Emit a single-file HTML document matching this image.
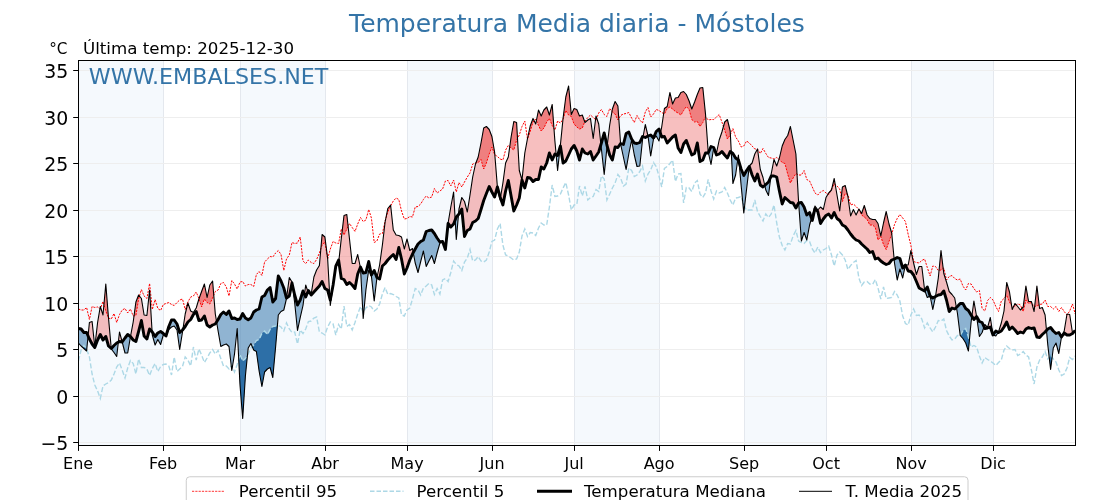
<!DOCTYPE html><html><head><meta charset="utf-8"><title>Temperatura Media diaria - Móstoles</title>
<style>html,body{margin:0;padding:0;background:#fff;overflow:hidden}svg{display:block}</style></head><body>
<svg width="1120" height="500" viewBox="0 0 1120 500" font-family='"DejaVu Sans", "Liberation Sans", sans-serif'>
<rect width="1120" height="500" fill="#fff"/>
<rect x="78" y="60.5" width="85" height="385.0" fill="#f5f9fd"/>
<rect x="240" y="60.5" width="85" height="385.0" fill="#f5f9fd"/>
<rect x="407" y="60.5" width="85" height="385.0" fill="#f5f9fd"/>
<rect x="574" y="60.5" width="85" height="385.0" fill="#f5f9fd"/>
<rect x="744" y="60.5" width="82" height="385.0" fill="#f5f9fd"/>
<rect x="911" y="60.5" width="82" height="385.0" fill="#f5f9fd"/>
<line x1="78.5" x2="78.5" y1="60.5" y2="445.5" stroke="#e4e8ee" stroke-width="1"/>
<line x1="163.5" x2="163.5" y1="60.5" y2="445.5" stroke="#e4e8ee" stroke-width="1"/>
<line x1="240.5" x2="240.5" y1="60.5" y2="445.5" stroke="#e4e8ee" stroke-width="1"/>
<line x1="325.5" x2="325.5" y1="60.5" y2="445.5" stroke="#e4e8ee" stroke-width="1"/>
<line x1="407.5" x2="407.5" y1="60.5" y2="445.5" stroke="#e4e8ee" stroke-width="1"/>
<line x1="492.5" x2="492.5" y1="60.5" y2="445.5" stroke="#e4e8ee" stroke-width="1"/>
<line x1="574.5" x2="574.5" y1="60.5" y2="445.5" stroke="#e4e8ee" stroke-width="1"/>
<line x1="659.5" x2="659.5" y1="60.5" y2="445.5" stroke="#e4e8ee" stroke-width="1"/>
<line x1="744.5" x2="744.5" y1="60.5" y2="445.5" stroke="#e4e8ee" stroke-width="1"/>
<line x1="826.5" x2="826.5" y1="60.5" y2="445.5" stroke="#e4e8ee" stroke-width="1"/>
<line x1="911.5" x2="911.5" y1="60.5" y2="445.5" stroke="#e4e8ee" stroke-width="1"/>
<line x1="993.5" x2="993.5" y1="60.5" y2="445.5" stroke="#e4e8ee" stroke-width="1"/>
<line x1="78.5" x2="1075.5" y1="442.5" y2="442.5" stroke="#eeeeee" stroke-width="1"/>
<line x1="78.5" x2="1075.5" y1="396.5" y2="396.5" stroke="#eeeeee" stroke-width="1"/>
<line x1="78.5" x2="1075.5" y1="349.5" y2="349.5" stroke="#eeeeee" stroke-width="1"/>
<line x1="78.5" x2="1075.5" y1="303.5" y2="303.5" stroke="#eeeeee" stroke-width="1"/>
<line x1="78.5" x2="1075.5" y1="256.5" y2="256.5" stroke="#eeeeee" stroke-width="1"/>
<line x1="78.5" x2="1075.5" y1="210.5" y2="210.5" stroke="#eeeeee" stroke-width="1"/>
<line x1="78.5" x2="1075.5" y1="163.5" y2="163.5" stroke="#eeeeee" stroke-width="1"/>
<line x1="78.5" x2="1075.5" y1="117.5" y2="117.5" stroke="#eeeeee" stroke-width="1"/>
<line x1="78.5" x2="1075.5" y1="70.5" y2="70.5" stroke="#eeeeee" stroke-width="1"/>
<defs>
<clipPath id="ax"><rect x="78.5" y="60.5" width="997.0" height="385.0"/></clipPath>
</defs>
<g clip-path="url(#ax)">
<path d="M88.1,335.9 L89.4,322.5 L92.1,321.5 L94.8,347.0 L97.6,322.5 L100.3,306.5 L103.0,315.0 L105.8,284.0 L108.5,318.0 L111.2,348.5 L111.2,348.5 L108.5,346.0 L105.8,336.5 L103.0,340.0 L100.3,334.5 L97.6,340.0 L94.8,347.5 L92.1,344.0 L89.4,339.0 L88.1,335.9Z M118.3,342.1 L119.5,332.0 L122.2,342.0 L122.2,342.0 L119.5,341.5 L118.3,342.1Z M130.5,336.6 L133.2,322.0 L135.9,302.0 L138.6,295.0 L141.4,298.5 L144.1,315.0 L146.9,315.5 L149.6,290.0 L152.1,331.8 L152.1,331.8 L149.6,329.0 L146.9,339.0 L144.1,336.0 L141.4,320.5 L138.6,331.5 L135.9,341.5 L133.2,340.0 L130.5,336.6Z M182.8,329.5 L185.2,314.0 L187.9,303.0 L190.7,311.0 L193.4,312.5 L196.2,308.0 L198.9,299.0 L201.6,291.5 L204.4,284.0 L207.1,297.5 L209.8,285.0 L212.6,281.0 L215.3,314.0 L216.6,321.9 L216.6,321.9 L215.3,324.0 L212.6,325.0 L209.8,327.0 L207.1,325.0 L204.4,316.0 L201.6,320.0 L198.9,320.5 L196.2,311.5 L193.4,314.5 L190.7,319.5 L187.9,322.0 L185.2,326.5 L182.8,329.5Z M286.6,297.9 L289.3,277.5 L292.0,282.0 L292.3,284.3 L292.3,284.3 L292.0,283.0 L289.3,296.0 L286.6,297.9Z M304.5,294.3 L305.7,285.0 L308.0,291.6 L308.0,291.6 L305.7,297.0 L304.5,294.3Z M310.4,293.7 L311.2,294.0 L313.9,277.0 L316.6,270.0 L319.4,265.5 L322.1,234.5 L324.9,237.0 L327.6,258.0 L329.9,298.5 L329.9,298.5 L327.6,290.0 L324.9,288.5 L322.1,281.5 L319.4,286.0 L316.6,289.0 L313.9,292.0 L311.2,295.0 L310.4,293.7Z M338.7,261.3 L341.3,238.5 L344.0,215.5 L346.8,214.5 L349.5,239.0 L352.2,263.5 L355.0,263.5 L357.7,254.5 L360.3,267.3 L360.3,267.3 L357.7,274.0 L355.0,288.5 L352.2,285.0 L349.5,282.5 L346.8,284.5 L344.0,279.5 L341.3,278.5 L338.7,261.3Z M377.0,277.6 L379.6,265.0 L382.4,245.0 L385.1,222.0 L387.8,208.5 L390.6,205.0 L393.3,230.0 L396.1,235.0 L398.8,235.5 L401.5,237.0 L404.3,249.0 L407.0,239.0 L409.8,250.5 L412.5,248.5 L413.3,252.6 L413.3,252.6 L412.5,254.0 L409.8,260.0 L407.0,268.0 L404.3,274.0 L401.5,259.0 L398.8,247.5 L396.1,259.5 L393.3,254.5 L390.6,257.0 L387.8,260.0 L385.1,263.5 L382.4,266.0 L379.6,279.0 L377.0,277.6Z M445.4,249.5 L448.1,223.0 L450.8,207.0 L453.6,192.0 L455.2,219.9 L455.2,219.9 L453.6,224.0 L450.8,227.0 L448.1,223.5 L445.4,249.5Z M458.5,214.5 L459.0,209.0 L461.8,197.5 L464.5,201.5 L467.3,212.0 L470.0,195.0 L472.7,177.0 L475.5,164.0 L478.2,157.0 L481.0,143.0 L483.7,128.0 L486.4,126.5 L489.2,129.5 L491.9,136.5 L494.6,152.0 L497.4,187.0 L497.4,187.0 L494.6,197.0 L491.9,192.0 L489.2,186.5 L486.4,193.5 L483.7,200.5 L481.0,209.5 L478.2,218.5 L475.5,221.0 L472.7,222.5 L470.0,229.0 L467.3,230.5 L464.5,236.5 L461.8,209.0 L459.0,214.0 L458.5,214.5Z M500.5,198.0 L502.9,183.0 L505.6,163.0 L508.3,157.0 L511.1,137.0 L513.8,121.5 L516.6,122.5 L519.3,170.5 L522.0,180.0 L522.0,180.0 L519.3,198.0 L516.6,205.0 L513.8,211.0 L511.1,196.0 L508.3,180.5 L505.6,191.0 L502.9,205.0 L500.5,198.0Z M522.0,180.0 L524.8,153.0 L527.5,138.5 L530.2,126.0 L533.0,118.5 L535.7,124.0 L538.5,110.0 L541.2,116.0 L543.9,110.0 L546.7,107.0 L549.4,115.0 L552.2,104.5 L554.9,141.0 L556.2,154.7 L556.2,154.7 L554.9,154.0 L552.2,160.0 L549.4,153.0 L546.7,163.0 L543.9,169.0 L541.2,167.0 L538.5,179.5 L535.7,179.5 L533.0,181.5 L530.2,178.0 L527.5,177.5 L524.8,188.0 L522.0,180.0Z M560.2,146.6 L560.4,145.0 L563.1,118.0 L565.8,97.0 L568.6,86.0 L571.3,114.5 L574.1,108.5 L576.8,109.5 L579.5,116.0 L582.3,115.0 L585.0,122.5 L587.8,120.0 L590.5,118.5 L593.2,138.5 L596.0,116.0 L598.7,124.0 L601.0,144.6 L601.0,144.6 L598.7,152.0 L596.0,156.0 L593.2,160.0 L590.5,151.5 L587.8,154.0 L585.0,153.0 L582.3,149.0 L579.5,160.0 L576.8,151.0 L574.1,145.5 L571.3,149.0 L568.6,155.0 L565.8,161.0 L563.1,163.0 L560.4,146.0 L560.2,146.6Z M607.2,145.9 L609.7,125.0 L612.4,109.0 L615.1,101.5 L617.9,106.0 L620.6,143.5 L620.6,143.5 L617.9,147.5 L615.1,147.0 L612.4,160.0 L609.7,155.0 L607.2,145.9Z M643.1,136.7 L645.3,124.5 L648.0,136.0 L648.0,136.0 L645.3,137.5 L643.1,136.7Z M660.4,133.4 L661.7,127.0 L664.4,108.5 L667.2,106.5 L669.9,92.5 L672.6,104.0 L675.4,98.0 L678.1,97.5 L680.9,92.5 L683.6,91.5 L686.3,94.5 L689.1,101.0 L691.8,109.0 L694.6,102.0 L697.3,94.5 L700.0,88.0 L702.8,87.5 L705.5,114.0 L708.2,152.0 L708.4,152.7 L708.4,152.7 L708.2,153.0 L705.5,153.0 L702.8,160.0 L700.0,161.5 L697.3,143.0 L694.6,153.5 L691.8,155.0 L689.1,148.0 L686.3,140.5 L683.6,144.0 L680.9,152.5 L678.1,148.0 L675.4,135.0 L672.6,137.0 L669.9,140.0 L667.2,143.0 L664.4,136.5 L661.7,137.0 L660.4,133.4Z M714.3,149.0 L716.5,153.0 L719.2,140.0 L721.9,132.0 L724.7,122.0 L727.4,119.5 L730.2,131.0 L731.3,152.3 L731.3,152.3 L730.2,151.5 L727.4,158.0 L724.7,155.0 L721.9,151.5 L719.2,154.0 L716.5,155.0 L714.3,149.0Z M737.7,159.5 L738.4,155.0 L739.0,162.1 L739.0,162.1 L738.4,160.0 L737.7,159.5Z M749.3,166.6 L749.3,166.0 L752.1,163.0 L754.8,154.0 L757.5,149.0 L760.3,169.5 L763.0,177.5 L764.7,185.4 L764.7,185.4 L763.0,187.0 L760.3,185.0 L757.5,174.0 L754.8,181.0 L752.1,175.0 L749.3,166.5 L749.3,166.6Z M770.9,176.8 L771.2,174.0 L774.0,159.5 L776.7,166.0 L779.4,158.0 L782.2,146.0 L784.9,139.5 L787.7,135.5 L790.4,126.5 L793.1,140.0 L795.9,154.0 L798.6,202.5 L798.7,203.0 L798.7,203.0 L798.6,203.0 L795.9,208.0 L793.1,203.0 L790.4,202.5 L787.7,200.0 L784.9,197.5 L782.2,204.0 L779.4,191.0 L776.7,177.0 L774.0,176.0 L771.2,176.0 L770.9,176.8Z M811.5,218.2 L812.3,215.5 L815.0,206.0 L817.8,210.0 L820.5,207.0 L823.3,209.5 L826.0,197.5 L828.7,193.0 L831.5,190.0 L834.2,178.5 L837.0,195.0 L839.7,211.0 L842.4,187.0 L845.2,185.5 L847.9,196.5 L850.6,216.0 L853.4,209.5 L856.1,215.0 L858.9,209.0 L861.6,213.5 L864.3,205.5 L867.1,215.0 L869.8,218.5 L872.6,219.5 L875.3,219.5 L878.0,223.5 L880.8,236.0 L883.5,223.0 L886.2,211.5 L889.0,224.0 L891.7,233.0 L894.1,259.1 L894.1,259.1 L891.7,260.0 L889.0,263.5 L886.2,264.5 L883.5,263.0 L880.8,261.0 L878.0,258.0 L875.3,259.0 L872.6,251.5 L869.8,252.5 L867.1,249.0 L864.3,246.5 L861.6,244.0 L858.9,241.0 L856.1,240.0 L853.4,237.5 L850.6,234.0 L847.9,230.0 L845.2,226.5 L842.4,225.0 L839.7,220.5 L837.0,218.5 L834.2,212.5 L831.5,218.0 L828.7,214.0 L826.0,215.5 L823.3,219.0 L820.5,223.5 L817.8,211.5 L815.0,208.5 L812.3,220.5 L811.5,218.2Z M905.4,265.0 L908.2,265.0 L910.9,250.5 L913.6,263.0 L916.4,274.5 L919.1,266.5 L921.8,266.5 L924.6,290.0 L924.8,290.7 L924.8,290.7 L924.6,291.0 L921.8,289.5 L919.1,288.0 L916.4,281.5 L913.6,275.0 L910.9,271.5 L908.2,271.0 L905.4,265.0Z M935.5,296.5 L938.3,278.0 L941.0,250.5 L943.8,273.5 L946.5,282.0 L949.2,291.5 L952.0,294.5 L954.7,298.0 L956.4,307.4 L956.4,307.4 L954.7,309.0 L952.0,308.0 L949.2,311.5 L946.5,300.0 L943.8,291.0 L941.0,294.5 L938.3,295.0 L935.5,296.5Z M971.9,316.2 L973.9,301.0 L976.6,316.5 L976.6,316.5 L973.9,319.5 L971.9,316.2Z M984.0,326.8 L984.8,324.5 L987.6,327.5 L990.3,317.5 L993.0,335.0 L993.0,335.0 L990.3,327.0 L987.6,328.0 L984.8,328.5 L984.0,326.8Z M998.3,332.4 L998.5,332.0 L1001.3,323.0 L1004.0,311.0 L1006.7,282.5 L1009.5,292.0 L1012.2,309.5 L1015.0,303.5 L1017.7,306.5 L1020.4,310.0 L1023.2,307.0 L1025.9,286.0 L1028.6,301.5 L1031.4,301.5 L1034.1,311.5 L1036.9,286.0 L1039.6,308.5 L1042.3,307.5 L1045.1,315.0 L1046.5,330.5 L1046.5,330.5 L1045.1,332.0 L1042.3,334.5 L1039.6,337.5 L1036.9,337.0 L1034.1,328.0 L1031.4,328.5 L1028.6,327.5 L1025.9,329.0 L1023.2,333.0 L1020.4,332.0 L1017.7,333.5 L1015.0,330.0 L1012.2,327.0 L1009.5,329.5 L1006.7,322.0 L1004.0,327.0 L1001.3,331.0 L998.5,332.5 L998.3,332.4Z M1061.5,337.0 L1064.2,331.0 L1067.0,314.0 L1069.7,314.5 L1072.5,333.0 L1072.5,333.5 L1069.7,335.0 L1067.0,335.0 L1064.2,333.0 L1061.5,337.0Z" fill="#f08080" fill-opacity="0.5"/>
<path d="M78.4,343.0 L81.1,346.0 L83.9,348.5 L86.6,351.0 L88.1,335.9 L88.1,335.9 L86.6,332.5 L83.9,332.5 L81.1,329.0 L78.4,328.5Z M111.2,348.5 L111.3,349.0 L114.0,352.5 L116.7,356.5 L118.3,342.1 L118.3,342.1 L116.7,343.0 L114.0,345.5 L111.3,348.5 L111.2,348.5Z M122.2,342.0 L125.0,353.0 L127.7,353.0 L130.4,337.0 L130.5,336.6 L130.5,336.6 L130.4,336.5 L127.7,334.5 L125.0,338.0 L122.2,342.0Z M152.1,331.8 L152.3,335.0 L155.1,345.0 L157.8,339.5 L160.6,344.5 L163.3,335.0 L166.0,336.0 L166.0,336.0 L163.3,333.5 L160.6,331.5 L157.8,333.0 L155.1,336.5 L152.3,332.0 L152.1,331.8Z M166.0,336.0 L168.8,329.5 L171.5,327.0 L174.2,326.0 L177.0,330.0 L179.7,349.5 L182.5,332.0 L182.8,329.5 L182.8,329.5 L182.5,330.0 L179.7,332.5 L177.0,324.0 L174.2,320.0 L171.5,320.0 L168.8,326.5 L166.0,336.0Z M216.6,321.9 L218.1,331.0 L220.8,346.5 L223.5,345.0 L226.3,344.0 L229.0,346.5 L231.8,370.5 L234.5,354.0 L237.2,328.5 L240.0,385.0 L242.7,418.5 L245.4,376.0 L248.2,348.0 L250.9,343.5 L253.7,350.0 L256.4,351.5 L259.1,371.0 L261.9,386.5 L264.6,372.0 L267.4,369.0 L270.1,367.5 L272.8,377.5 L275.6,347.0 L278.3,315.0 L281.0,311.5 L283.8,310.0 L286.5,298.5 L286.6,297.9 L286.6,297.9 L286.5,298.0 L283.8,288.0 L281.0,281.0 L278.3,276.0 L275.6,298.5 L272.8,302.0 L270.1,287.5 L267.4,290.0 L264.6,295.5 L261.9,297.0 L259.1,309.0 L256.4,310.0 L253.7,312.0 L250.9,318.0 L248.2,319.7 L245.4,318.0 L242.7,313.5 L240.0,319.0 L237.2,319.5 L234.5,318.0 L231.8,318.5 L229.0,311.0 L226.3,314.5 L223.5,312.0 L220.8,314.5 L218.1,319.5 L216.6,321.9Z M292.3,284.3 L294.7,303.0 L297.5,330.5 L300.2,317.7 L303.0,305.5 L304.5,294.3 L304.5,294.3 L303.0,291.0 L300.2,300.0 L297.5,305.0 L294.7,295.0 L292.3,284.3Z M308.0,291.6 L308.4,293.0 L310.4,293.7 L310.4,293.7 L308.4,290.5 L308.0,291.6Z M329.9,298.5 L330.3,305.5 L333.1,285.0 L333.1,285.0 L330.3,300.0 L329.9,298.5Z M333.1,285.0 L335.8,267.5 L338.6,263.0 L338.7,261.3 L338.7,261.3 L338.6,260.0 L335.8,266.0 L333.1,285.0Z M360.3,267.3 L360.5,268.0 L363.2,318.5 L365.9,290.0 L368.7,270.0 L371.4,276.0 L374.2,301.0 L376.9,278.0 L377.0,277.6 L377.0,277.6 L376.9,277.5 L374.2,270.5 L371.4,275.0 L368.7,261.5 L365.9,272.5 L363.2,273.0 L360.5,267.0 L360.3,267.3Z M413.3,252.6 L415.2,263.0 L418.0,272.5 L420.7,261.5 L423.4,251.0 L426.2,266.5 L428.9,261.0 L431.7,255.5 L434.4,263.5 L437.1,253.0 L439.9,243.0 L442.6,241.5 L442.6,241.5 L439.9,242.0 L437.1,238.0 L434.4,233.5 L431.7,230.0 L428.9,230.5 L426.2,231.5 L423.4,240.0 L420.7,241.5 L418.0,244.0 L415.2,249.0 L413.3,252.6Z M455.2,219.9 L456.3,239.5 L458.5,214.5 L458.5,214.5 L456.3,217.0 L455.2,219.9Z M497.4,187.0 L500.1,200.0 L500.5,198.0 L500.5,198.0 L500.1,197.0 L497.4,187.0Z M556.2,154.7 L557.6,170.5 L560.2,146.6 L560.2,146.6 L557.6,155.5 L556.2,154.7Z M601.0,144.6 L601.4,149.0 L604.2,174.5 L606.9,148.0 L607.2,145.9 L607.2,145.9 L606.9,145.0 L604.2,133.0 L601.4,143.0 L601.0,144.6Z M620.6,143.5 L620.6,144.0 L623.4,157.0 L626.1,169.5 L628.8,154.0 L631.6,140.0 L634.3,155.0 L637.0,166.5 L639.8,166.0 L642.5,140.0 L643.1,136.7 L643.1,136.7 L642.5,136.5 L639.8,142.5 L637.0,143.5 L634.3,143.0 L631.6,139.0 L628.8,132.0 L626.1,133.5 L623.4,144.5 L620.6,143.5 L620.6,143.5Z M648.0,136.0 L650.7,156.0 L653.5,139.0 L656.2,136.0 L659.0,141.0 L660.4,133.4 L660.4,133.4 L659.0,129.0 L656.2,131.5 L653.5,138.0 L650.7,135.0 L648.0,136.0Z M708.4,152.7 L711.0,164.5 L713.7,148.0 L714.3,149.0 L714.3,149.0 L713.7,147.5 L711.0,146.5 L708.4,152.7Z M731.3,152.3 L732.9,183.5 L735.6,175.0 L737.7,159.5 L737.7,159.5 L735.6,158.0 L732.9,153.5 L731.3,152.3Z M739.0,162.1 L741.1,185.0 L743.8,213.0 L746.6,189.0 L749.3,166.6 L749.3,166.6 L746.6,170.5 L743.8,175.5 L741.1,169.0 L739.0,162.1Z M764.7,185.4 L765.8,190.0 L768.5,195.5 L770.9,176.8 L770.9,176.8 L768.5,182.0 L765.8,184.5 L764.7,185.4Z M798.7,203.0 L801.4,241.0 L804.1,232.5 L806.8,240.0 L809.6,225.0 L811.5,218.2 L811.5,218.2 L809.6,212.5 L806.8,215.0 L804.1,207.0 L801.4,202.5 L798.7,203.0Z M894.1,259.1 L894.5,263.0 L897.2,280.0 L899.9,269.0 L902.7,278.0 L905.4,265.0 L905.4,265.0 L902.7,268.0 L899.9,258.5 L897.2,257.5 L894.5,259.0 L894.1,259.1Z M924.8,290.7 L927.3,297.5 L930.1,296.0 L930.1,296.0 L927.3,287.0 L924.8,290.7Z M930.1,296.0 L932.8,309.5 L935.5,296.5 L935.5,296.5 L932.8,298.0 L930.1,296.0Z M956.4,307.4 L957.4,313.0 L960.2,335.5 L962.9,338.5 L965.7,343.0 L968.4,351.0 L971.1,322.0 L971.9,316.2 L971.9,316.2 L971.1,315.0 L968.4,310.5 L965.7,308.5 L962.9,303.5 L960.2,303.5 L957.4,306.5 L956.4,307.4Z M976.6,316.5 L979.4,336.5 L982.1,332.5 L984.0,326.8 L984.0,326.8 L982.1,322.5 L979.4,321.5 L976.6,316.5Z M993.0,335.0 L995.8,336.0 L998.3,332.4 L998.3,332.4 L995.8,331.0 L993.0,335.0Z M1046.5,330.5 L1047.8,345.0 L1050.6,369.5 L1053.3,348.0 L1056.0,343.0 L1058.8,353.5 L1061.5,337.0 L1061.5,337.0 L1058.8,332.5 L1056.0,333.5 L1053.3,331.0 L1050.6,327.5 L1047.8,329.0 L1046.5,330.5Z" fill="#4682b4" fill-opacity="0.6"/>
<path d="M99.9,308.7 L100.3,306.5 L100.7,307.8 L100.7,307.8 L100.3,309.0 L99.9,308.7Z M104.0,304.7 L105.8,284.0 L108.5,318.0 L108.5,318.0 L105.8,311.0 L104.0,304.7Z M134.0,315.8 L135.9,302.0 L138.6,295.0 L139.5,296.1 L139.5,296.1 L138.6,299.0 L135.9,315.5 L134.0,315.8Z M199.0,298.8 L201.6,291.5 L204.4,284.0 L207.1,297.5 L209.8,285.0 L212.6,281.0 L213.8,295.2 L213.8,295.2 L212.6,298.0 L209.8,304.0 L207.1,302.5 L204.4,299.0 L201.6,307.0 L199.0,298.8Z M320.9,248.7 L322.1,234.5 L324.9,237.0 L327.6,258.0 L327.6,258.8 L327.6,258.8 L327.6,259.0 L324.9,242.0 L322.1,245.0 L320.9,248.7Z M342.2,231.0 L344.0,215.5 L346.8,214.5 L348.1,226.3 L348.1,226.3 L346.8,229.0 L344.0,235.0 L342.2,231.0Z M385.7,219.0 L387.8,208.5 L390.6,205.0 L390.7,205.8 L390.7,205.8 L390.6,206.0 L387.8,212.0 L385.7,219.0Z M475.9,162.9 L478.2,157.0 L481.0,143.0 L483.7,128.0 L486.4,126.5 L489.2,129.5 L491.9,136.5 L494.6,152.0 L494.9,154.7 L494.9,154.7 L494.6,154.5 L491.9,147.0 L489.2,154.0 L486.4,163.0 L483.7,169.0 L481.0,159.5 L478.2,162.5 L475.9,162.9Z M509.7,146.8 L511.1,137.0 L513.8,121.5 L516.6,122.5 L517.5,138.3 L517.5,138.3 L516.6,140.0 L513.8,150.0 L511.1,148.0 L509.7,146.8Z M527.5,138.7 L527.5,138.5 L530.2,126.0 L533.0,118.5 L534.1,120.8 L534.1,120.8 L533.0,122.0 L530.2,131.5 L527.5,139.0 L527.5,138.7Z M536.4,120.6 L538.5,110.0 L541.2,116.0 L543.9,110.0 L546.7,107.0 L549.4,115.0 L552.2,104.5 L554.0,128.5 L554.0,128.5 L552.2,125.5 L549.4,118.5 L546.7,122.0 L543.9,128.0 L541.2,131.0 L538.5,125.5 L536.4,120.6Z M563.0,119.2 L563.1,118.0 L565.8,97.0 L568.6,86.0 L571.3,114.5 L574.1,108.5 L576.8,109.5 L579.5,116.0 L582.3,115.0 L584.7,121.7 L584.7,121.7 L582.3,128.0 L579.5,129.0 L576.8,127.0 L574.1,124.0 L571.3,116.5 L568.6,115.0 L565.8,110.5 L563.1,119.0 L563.0,119.2Z M595.5,119.6 L596.0,116.0 L596.7,118.1 L596.7,118.1 L596.0,120.0 L595.5,119.6Z M612.0,111.5 L612.4,109.0 L615.1,101.5 L617.9,106.0 L618.8,118.5 L618.8,118.5 L617.9,120.0 L615.1,114.0 L612.4,112.0 L612.0,111.5Z M663.7,113.6 L664.4,108.5 L667.2,106.5 L669.9,92.5 L672.6,104.0 L675.4,98.0 L678.1,97.5 L680.9,92.5 L683.6,91.5 L686.3,94.5 L689.1,101.0 L691.8,109.0 L694.6,102.0 L697.3,94.5 L700.0,88.0 L702.8,87.5 L705.5,114.0 L705.7,116.8 L705.7,116.8 L705.5,116.5 L702.8,122.5 L700.0,126.5 L697.3,121.5 L694.6,122.0 L691.8,119.5 L689.1,109.5 L686.3,106.5 L683.6,110.5 L680.9,115.0 L678.1,113.0 L675.4,111.5 L672.6,109.0 L669.9,107.0 L667.2,108.5 L664.4,114.0 L663.7,113.6Z M723.5,126.4 L724.7,122.0 L727.4,119.5 L730.2,131.0 L730.3,134.6 L730.3,134.6 L730.2,135.0 L727.4,139.0 L724.7,130.0 L723.5,126.4Z M779.0,159.2 L779.4,158.0 L782.2,146.0 L784.9,139.5 L787.7,135.5 L790.4,126.5 L793.1,140.0 L795.9,154.0 L797.0,174.1 L797.0,174.1 L795.9,173.5 L793.1,178.0 L790.4,183.0 L787.7,174.0 L784.9,163.5 L782.2,162.5 L779.4,159.5 L779.0,159.2Z M828.1,194.1 L828.7,193.0 L830.4,191.2 L830.4,191.2 L828.7,194.5 L828.1,194.1Z M831.9,188.2 L834.2,178.5 L835.3,184.8 L835.3,184.8 L834.2,184.0 L831.9,188.2Z M841.3,196.5 L842.4,187.0 L845.2,185.5 L847.4,194.3 L847.4,194.3 L845.2,193.5 L842.4,201.5 L841.3,196.5Z M858.7,209.3 L858.9,209.0 L861.6,213.5 L864.3,205.5 L867.1,215.0 L869.8,218.5 L872.6,219.5 L875.3,219.5 L878.0,223.5 L880.8,236.0 L883.5,223.0 L886.2,211.5 L889.0,224.0 L891.7,233.0 L891.8,233.8 L891.8,233.8 L891.7,234.0 L889.0,241.5 L886.2,249.5 L883.5,244.5 L880.8,236.5 L878.0,240.0 L875.3,227.5 L872.6,225.0 L869.8,225.0 L867.1,219.5 L864.3,217.0 L861.6,215.0 L858.9,209.5 L858.7,209.3Z M939.0,270.4 L941.0,250.5 L943.2,268.4 L943.2,268.4 L941.0,270.0 L939.0,270.4Z M1005.3,297.0 L1006.7,282.5 L1009.5,292.0 L1011.7,306.0 L1011.7,306.0 L1009.5,302.0 L1006.7,295.5 L1005.3,297.0Z M1013.6,306.5 L1015.0,303.5 L1016.3,305.0 L1016.3,305.0 L1015.0,306.0 L1013.6,306.5Z M1021.9,308.4 L1023.2,307.0 L1025.9,286.0 L1028.6,301.5 L1031.4,301.5 L1031.8,303.2 L1031.8,303.2 L1031.4,302.5 L1028.6,303.5 L1025.9,300.0 L1023.2,311.5 L1021.9,308.4Z M1034.7,306.4 L1036.9,286.0 L1039.1,304.8 L1039.1,304.8 L1036.9,306.0 L1034.7,306.4Z M1066.9,314.8 L1067.0,314.0 L1067.6,314.1 L1067.6,314.1 L1067.0,315.0 L1066.9,314.8Z" fill="#ef7f7f" fill-opacity="1"/>
<path d="M82.7,347.4 L83.9,348.5 L86.6,351.0 L86.8,349.4 L86.8,349.4 L86.6,349.0 L83.9,345.5 L82.7,347.4Z M231.2,365.8 L231.8,370.5 L232.4,366.6 L232.4,366.6 L231.8,365.0 L231.2,365.8Z M238.7,359.1 L240.0,385.0 L242.7,418.5 L245.4,376.0 L247.5,355.1 L247.5,355.1 L245.4,358.5 L242.7,361.0 L240.0,354.5 L238.7,359.1Z M252.2,346.6 L253.7,350.0 L256.4,351.5 L259.1,371.0 L261.9,386.5 L264.6,372.0 L267.4,369.0 L270.1,367.5 L272.8,377.5 L275.6,347.0 L277.4,325.7 L277.4,325.7 L275.6,326.0 L272.8,326.5 L270.1,329.5 L267.4,334.5 L264.6,331.0 L261.9,333.5 L259.1,339.5 L256.4,340.5 L253.7,345.0 L252.2,346.6Z M362.8,311.7 L363.2,318.5 L363.9,311.4 L363.9,311.4 L363.2,312.5 L362.8,311.7Z M742.7,201.5 L743.8,213.0 L744.6,206.5 L744.6,206.5 L743.8,205.0 L742.7,201.5Z M960.2,335.5 L962.9,338.5 L965.7,343.0 L968.4,351.0 L969.4,340.6 L969.4,340.6 L968.4,337.0 L965.7,328.5 L962.9,331.0 L960.2,335.5Z M1049.1,356.8 L1050.6,369.5 L1052.1,357.1 L1052.1,357.1 L1050.6,354.5 L1049.1,356.8Z" fill="#2d6fa7" fill-opacity="1"/>
<polyline points="78.4,309.0 81.1,310.0 83.9,310.0 86.6,307.5 89.4,319.5 92.1,306.5 94.8,307.5 97.6,307.0 100.3,309.0 103.0,301.5 105.8,311.0 108.5,318.0 111.3,319.0 114.0,313.5 116.7,322.5 119.5,314.5 122.2,310.0 125.0,308.5 127.7,313.0 130.4,309.0 133.2,316.0 135.9,315.5 138.6,299.0 141.4,289.5 144.1,296.0 146.9,298.5 149.6,283.5 152.3,309.5 155.1,299.5 157.8,308.5 160.6,310.5 163.3,304.5 166.0,303.5 168.8,302.5 171.5,304.5 174.2,305.5 177.0,302.5 179.7,300.0 182.5,299.0 185.2,309.5 187.9,302.0 190.7,297.0 193.4,296.0 196.2,292.0 198.9,298.5 201.6,307.0 204.4,299.0 207.1,302.5 209.8,304.0 212.6,298.0 215.3,291.5 218.1,290.0 220.8,283.5 223.5,282.5 226.3,287.0 229.0,296.0 231.8,280.5 234.5,284.0 237.2,289.0 240.0,282.0 242.7,281.5 245.4,286.0 248.2,284.5 250.9,284.5 253.7,286.5 256.4,274.5 259.1,271.5 261.9,275.5 264.6,262.0 267.4,259.0 270.1,256.5 272.8,257.0 275.6,253.0 278.3,250.5 281.0,254.5 283.8,270.5 286.5,259.0 289.3,255.0 292.0,242.5 294.7,243.5 297.5,243.0 300.2,237.0 303.0,261.0 305.7,263.5 308.4,260.0 311.2,262.5 313.9,263.5 316.6,259.5 319.4,253.0 322.1,245.0 324.9,242.0 327.6,259.0 330.3,249.0 333.1,241.5 335.8,243.0 338.6,243.5 341.3,229.0 344.0,235.0 346.8,229.0 349.5,223.5 352.2,227.5 355.0,231.5 357.7,224.0 360.5,217.5 363.2,221.5 365.9,220.0 368.7,209.5 371.4,218.0 374.2,242.5 376.9,241.0 379.6,234.0 382.4,233.5 385.1,221.0 387.8,212.0 390.6,206.0 393.3,201.0 396.1,198.0 398.8,199.5 401.5,211.0 404.3,219.0 407.0,218.5 409.8,216.5 412.5,217.0 415.2,207.0 418.0,206.5 420.7,204.0 423.4,199.5 426.2,196.0 428.9,198.0 431.7,197.0 434.4,188.5 437.1,193.0 439.9,191.0 442.6,189.0 445.4,181.0 448.1,180.5 450.8,186.0 453.6,180.0 456.3,192.0 459.0,182.5 461.8,187.0 464.5,182.0 467.3,177.0 470.0,173.0 472.7,164.0 475.5,163.0 478.2,162.5 481.0,159.5 483.7,169.0 486.4,163.0 489.2,154.0 491.9,147.0 494.6,154.5 497.4,156.5 500.1,159.0 502.9,160.0 505.6,150.0 508.3,145.5 511.1,148.0 513.8,150.0 516.6,140.0 519.3,135.0 522.0,126.5 524.8,121.0 527.5,139.0 530.2,131.5 533.0,122.0 535.7,119.0 538.5,125.5 541.2,131.0 543.9,128.0 546.7,122.0 549.4,118.5 552.2,125.5 554.9,130.0 557.6,121.0 560.4,123.0 563.1,119.0 565.8,110.5 568.6,115.0 571.3,116.5 574.1,124.0 576.8,127.0 579.5,129.0 582.3,128.0 585.0,121.0 587.8,117.5 590.5,115.0 593.2,117.5 596.0,120.0 598.7,113.0 601.4,109.5 604.2,114.5 606.9,116.5 609.7,108.5 612.4,112.0 615.1,114.0 617.9,120.0 620.6,115.5 623.4,114.0 626.1,113.5 628.8,112.5 631.6,118.0 634.3,122.5 637.0,115.5 639.8,120.0 642.5,123.0 645.3,112.0 648.0,107.5 650.7,117.0 653.5,114.0 656.2,109.5 659.0,110.5 661.7,112.5 664.4,114.0 667.2,108.5 669.9,107.0 672.6,109.0 675.4,111.5 678.1,113.0 680.9,115.0 683.6,110.5 686.3,106.5 689.1,109.5 691.8,119.5 694.6,122.0 697.3,121.5 700.0,126.5 702.8,122.5 705.5,116.5 708.2,120.0 711.0,119.5 713.7,119.5 716.5,117.0 719.2,114.5 721.9,122.0 724.7,130.0 727.4,139.0 730.2,135.0 732.9,128.5 735.6,137.0 738.4,141.0 741.1,147.0 743.8,146.0 746.6,141.0 749.3,143.0 752.1,146.0 754.8,149.0 757.5,149.0 760.3,153.5 763.0,148.5 765.8,153.5 768.5,157.5 771.2,158.0 774.0,159.0 776.7,157.5 779.4,159.5 782.2,162.5 784.9,163.5 787.7,174.0 790.4,183.0 793.1,178.0 795.9,173.5 798.6,175.0 801.4,175.0 804.1,170.5 806.8,179.5 809.6,181.0 812.3,187.0 815.0,193.0 817.8,195.0 820.5,192.0 823.3,190.5 826.0,193.0 828.7,194.5 831.5,189.0 834.2,184.0 837.0,186.0 839.7,189.0 842.4,201.5 845.2,193.5 847.9,194.5 850.6,205.0 853.4,204.0 856.1,206.5 858.9,209.5 861.6,215.0 864.3,217.0 867.1,219.5 869.8,225.0 872.6,225.0 875.3,227.5 878.0,240.0 880.8,236.5 883.5,244.5 886.2,249.5 889.0,241.5 891.7,234.0 894.5,224.5 897.2,218.5 899.9,214.5 902.7,218.0 905.4,221.5 908.2,234.5 910.9,245.5 913.6,261.5 916.4,262.5 919.1,263.0 921.8,260.5 924.6,259.0 927.3,267.5 930.1,276.0 932.8,266.0 935.5,266.5 938.3,270.5 941.0,270.0 943.8,268.0 946.5,280.0 949.2,276.5 952.0,275.5 954.7,278.5 957.4,280.0 960.2,279.0 962.9,286.0 965.7,290.0 968.4,283.5 971.1,284.0 973.9,288.5 976.6,292.0 979.4,290.5 982.1,308.5 984.8,311.0 987.6,300.5 990.3,297.5 993.0,300.0 995.8,306.5 998.5,311.5 1001.3,301.0 1004.0,298.5 1006.7,295.5 1009.5,302.0 1012.2,307.0 1015.0,306.0 1017.7,304.0 1020.4,305.0 1023.2,311.5 1025.9,300.0 1028.6,303.5 1031.4,302.5 1034.1,306.5 1036.9,306.0 1039.6,304.5 1042.3,304.0 1045.1,300.0 1047.8,306.5 1050.6,306.5 1053.3,309.0 1056.0,306.5 1058.8,311.5 1061.5,307.5 1064.2,311.5 1067.0,315.0 1069.7,311.0 1072.5,304.0 1075.2,314.0" fill="none" stroke="#ff0000" stroke-width="1" stroke-dasharray="2.1,1.2"/>
<polyline points="78.4,361.0 81.1,350.0 83.9,345.5 86.6,349.0 89.4,357.0 92.1,374.0 94.8,385.0 97.6,391.0 100.3,398.5 103.0,386.0 105.8,384.0 108.5,382.5 111.3,380.0 114.0,374.0 116.7,367.0 119.5,363.0 122.2,370.0 125.0,378.0 127.7,368.0 130.4,360.5 133.2,363.5 135.9,374.0 138.6,359.0 141.4,367.5 144.1,367.5 146.9,369.0 149.6,375.5 152.3,368.5 155.1,363.5 157.8,371.5 160.6,366.5 163.3,364.5 166.0,364.0 168.8,366.0 171.5,375.0 174.2,357.0 177.0,371.5 179.7,369.0 182.5,366.5 185.2,357.0 187.9,360.0 190.7,366.0 193.4,347.0 196.2,360.0 198.9,349.0 201.6,355.0 204.4,362.5 207.1,358.0 209.8,353.0 212.6,349.5 215.3,354.0 218.1,350.5 220.8,358.5 223.5,366.0 226.3,366.0 229.0,369.0 231.8,365.0 234.5,372.0 237.2,364.5 240.0,354.5 242.7,361.0 245.4,358.5 248.2,354.0 250.9,348.0 253.7,345.0 256.4,340.5 259.1,339.5 261.9,333.5 264.6,331.0 267.4,334.5 270.1,329.5 272.8,326.5 275.6,326.0 278.3,325.5 281.0,327.0 283.8,331.0 286.5,323.0 289.3,329.0 292.0,332.5 294.7,332.0 297.5,344.0 300.2,330.0 303.0,333.5 305.7,329.0 308.4,321.5 311.2,321.0 313.9,318.0 316.6,317.0 319.4,332.0 322.1,333.0 324.9,335.0 327.6,327.0 330.3,322.0 333.1,324.0 335.8,335.0 338.6,324.5 341.3,329.0 344.0,306.0 346.8,326.5 349.5,324.5 352.2,330.0 355.0,322.5 357.7,314.0 360.5,306.5 363.2,312.5 365.9,308.0 368.7,305.5 371.4,307.0 374.2,311.0 376.9,309.0 379.6,304.0 382.4,294.0 385.1,287.5 387.8,294.5 390.6,293.5 393.3,294.5 396.1,296.5 398.8,298.0 401.5,314.7 404.3,316.0 407.0,310.0 409.8,308.0 412.5,299.0 415.2,288.5 418.0,290.0 420.7,295.0 423.4,288.0 426.2,286.0 428.9,283.5 431.7,285.0 434.4,294.5 437.1,288.5 439.9,294.0 442.6,280.0 445.4,278.5 448.1,281.5 450.8,272.5 453.6,261.0 456.3,264.5 459.0,266.0 461.8,270.5 464.5,262.0 467.3,258.0 470.0,249.5 472.7,261.0 475.5,260.0 478.2,256.5 481.0,261.0 483.7,262.0 486.4,260.0 489.2,252.0 491.9,241.5 494.6,240.0 497.4,229.0 500.1,223.5 502.9,245.0 505.6,255.0 508.3,256.0 511.1,258.0 513.8,260.0 516.6,259.0 519.3,252.0 522.0,236.0 524.8,229.0 527.5,236.5 530.2,232.5 533.0,233.0 535.7,235.5 538.5,228.0 541.2,223.0 543.9,225.0 546.7,225.0 549.4,207.0 552.2,185.0 554.9,196.5 557.6,196.0 560.4,194.0 563.1,188.0 565.8,182.5 568.6,195.0 571.3,210.0 574.1,205.0 576.8,204.5 579.5,186.0 582.3,196.0 585.0,186.5 587.8,200.0 590.5,197.5 593.2,196.5 596.0,189.5 598.7,191.5 601.4,176.0 604.2,179.0 606.9,200.0 609.7,194.0 612.4,188.0 615.1,183.0 617.9,174.5 620.6,178.0 623.4,186.0 626.1,184.0 628.8,168.0 631.6,170.5 634.3,176.5 637.0,175.0 639.8,171.5 642.5,166.0 645.3,181.0 648.0,174.0 650.7,170.0 653.5,162.5 656.2,166.5 659.0,176.0 661.7,187.0 664.4,168.5 667.2,166.5 669.9,163.5 672.6,160.0 675.4,181.5 678.1,174.0 680.9,173.5 683.6,203.0 686.3,187.5 689.1,188.0 691.8,191.5 694.6,183.0 697.3,180.5 700.0,194.0 702.8,197.5 705.5,193.0 708.2,179.5 711.0,191.0 713.7,199.0 716.5,191.0 719.2,193.0 721.9,192.0 724.7,187.5 727.4,193.0 730.2,200.0 732.9,205.0 735.6,198.0 738.4,197.5 741.1,196.5 743.8,205.0 746.6,210.5 749.3,210.0 752.1,210.0 754.8,200.0 757.5,211.5 760.3,216.5 763.0,221.0 765.8,214.0 768.5,217.5 771.2,214.0 774.0,205.0 776.7,223.0 779.4,237.0 782.2,245.5 784.9,250.0 787.7,243.5 790.4,244.0 793.1,236.0 795.9,230.5 798.6,241.0 801.4,242.5 804.1,243.5 806.8,240.5 809.6,241.5 812.3,249.0 815.0,253.0 817.8,247.0 820.5,252.5 823.3,250.0 826.0,248.5 828.7,246.0 831.5,255.0 834.2,266.0 837.0,255.0 839.7,252.0 842.4,255.0 845.2,260.0 847.9,269.5 850.6,265.5 853.4,262.5 856.1,260.5 858.9,278.0 861.6,285.5 864.3,282.0 867.1,281.5 869.8,284.0 872.6,284.5 875.3,279.5 878.0,288.0 880.8,299.0 883.5,287.0 886.2,298.5 889.0,298.0 891.7,297.5 894.5,291.5 897.2,295.0 899.9,301.0 902.7,316.0 905.4,323.5 908.2,325.0 910.9,315.0 913.6,309.0 916.4,315.5 919.1,315.0 921.8,319.0 924.6,328.0 927.3,323.0 930.1,328.0 932.8,332.0 935.5,327.0 938.3,320.5 941.0,321.0 943.8,319.0 946.5,330.5 949.2,336.0 952.0,340.0 954.7,339.0 957.4,335.5 960.2,335.5 962.9,331.0 965.7,328.5 968.4,337.0 971.1,347.0 973.9,345.5 976.6,347.0 979.4,356.0 982.1,363.0 984.8,357.5 987.6,359.5 990.3,361.0 993.0,363.0 995.8,365.5 998.5,362.5 1001.3,360.0 1004.0,350.0 1006.7,346.0 1009.5,348.5 1012.2,350.0 1015.0,349.5 1017.7,355.5 1020.4,354.0 1023.2,351.5 1025.9,355.0 1028.6,357.0 1031.4,370.0 1034.1,384.0 1036.9,367.0 1039.6,360.0 1042.3,357.0 1045.1,351.5 1047.8,359.0 1050.6,354.5 1053.3,359.0 1056.0,362.0 1058.8,370.0 1061.5,375.5 1064.2,374.0 1067.0,368.0 1069.7,357.5 1072.5,359.5 1075.2,356.0" fill="none" stroke="#add8e6" stroke-width="1.4" stroke-dasharray="5,2.2"/>
<polyline points="78.4,328.5 81.1,329.0 83.9,332.5 86.6,332.5 89.4,339.0 92.1,344.0 94.8,347.5 97.6,340.0 100.3,334.5 103.0,340.0 105.8,336.5 108.5,346.0 111.3,348.5 114.0,345.5 116.7,343.0 119.5,341.5 122.2,342.0 125.0,338.0 127.7,334.5 130.4,336.5 133.2,340.0 135.9,341.5 138.6,331.5 141.4,320.5 144.1,336.0 146.9,339.0 149.6,329.0 152.3,332.0 155.1,336.5 157.8,333.0 160.6,331.5 163.3,333.5 166.0,336.0 168.8,326.5 171.5,320.0 174.2,320.0 177.0,324.0 179.7,332.5 182.5,330.0 185.2,326.5 187.9,322.0 190.7,319.5 193.4,314.5 196.2,311.5 198.9,320.5 201.6,320.0 204.4,316.0 207.1,325.0 209.8,327.0 212.6,325.0 215.3,324.0 218.1,319.5 220.8,314.5 223.5,312.0 226.3,314.5 229.0,311.0 231.8,318.5 234.5,318.0 237.2,319.5 240.0,319.0 242.7,313.5 245.4,318.0 248.2,319.7 250.9,318.0 253.7,312.0 256.4,310.0 259.1,309.0 261.9,297.0 264.6,295.5 267.4,290.0 270.1,287.5 272.8,302.0 275.6,298.5 278.3,276.0 281.0,281.0 283.8,288.0 286.5,298.0 289.3,296.0 292.0,283.0 294.7,295.0 297.5,305.0 300.2,300.0 303.0,291.0 305.7,297.0 308.4,290.5 311.2,295.0 313.9,292.0 316.6,289.0 319.4,286.0 322.1,281.5 324.9,288.5 327.6,290.0 330.3,300.0 333.1,285.0 335.8,266.0 338.6,260.0 341.3,278.5 344.0,279.5 346.8,284.5 349.5,282.5 352.2,285.0 355.0,288.5 357.7,274.0 360.5,267.0 363.2,273.0 365.9,272.5 368.7,261.5 371.4,275.0 374.2,270.5 376.9,277.5 379.6,279.0 382.4,266.0 385.1,263.5 387.8,260.0 390.6,257.0 393.3,254.5 396.1,259.5 398.8,247.5 401.5,259.0 404.3,274.0 407.0,268.0 409.8,260.0 412.5,254.0 415.2,249.0 418.0,244.0 420.7,241.5 423.4,240.0 426.2,231.5 428.9,230.5 431.7,230.0 434.4,233.5 437.1,238.0 439.9,242.0 442.6,241.5 445.4,249.5 448.1,223.5 450.8,227.0 453.6,224.0 456.3,217.0 459.0,214.0 461.8,209.0 464.5,236.5 467.3,230.5 470.0,229.0 472.7,222.5 475.5,221.0 478.2,218.5 481.0,209.5 483.7,200.5 486.4,193.5 489.2,186.5 491.9,192.0 494.6,197.0 497.4,187.0 500.1,197.0 502.9,205.0 505.6,191.0 508.3,180.5 511.1,196.0 513.8,211.0 516.6,205.0 519.3,198.0 522.0,180.0 524.8,188.0 527.5,177.5 530.2,178.0 533.0,181.5 535.7,179.5 538.5,179.5 541.2,167.0 543.9,169.0 546.7,163.0 549.4,153.0 552.2,160.0 554.9,154.0 557.6,155.5 560.4,146.0 563.1,163.0 565.8,161.0 568.6,155.0 571.3,149.0 574.1,145.5 576.8,151.0 579.5,160.0 582.3,149.0 585.0,153.0 587.8,154.0 590.5,151.5 593.2,160.0 596.0,156.0 598.7,152.0 601.4,143.0 604.2,133.0 606.9,145.0 609.7,155.0 612.4,160.0 615.1,147.0 617.9,147.5 620.6,143.5 623.4,144.5 626.1,133.5 628.8,132.0 631.6,139.0 634.3,143.0 637.0,143.5 639.8,142.5 642.5,136.5 645.3,137.5 648.0,136.0 650.7,135.0 653.5,138.0 656.2,131.5 659.0,129.0 661.7,137.0 664.4,136.5 667.2,143.0 669.9,140.0 672.6,137.0 675.4,135.0 678.1,148.0 680.9,152.5 683.6,144.0 686.3,140.5 689.1,148.0 691.8,155.0 694.6,153.5 697.3,143.0 700.0,161.5 702.8,160.0 705.5,153.0 708.2,153.0 711.0,146.5 713.7,147.5 716.5,155.0 719.2,154.0 721.9,151.5 724.7,155.0 727.4,158.0 730.2,151.5 732.9,153.5 735.6,158.0 738.4,160.0 741.1,169.0 743.8,175.5 746.6,170.5 749.3,166.5 752.1,175.0 754.8,181.0 757.5,174.0 760.3,185.0 763.0,187.0 765.8,184.5 768.5,182.0 771.2,176.0 774.0,176.0 776.7,177.0 779.4,191.0 782.2,204.0 784.9,197.5 787.7,200.0 790.4,202.5 793.1,203.0 795.9,208.0 798.6,203.0 801.4,202.5 804.1,207.0 806.8,215.0 809.6,212.5 812.3,220.5 815.0,208.5 817.8,211.5 820.5,223.5 823.3,219.0 826.0,215.5 828.7,214.0 831.5,218.0 834.2,212.5 837.0,218.5 839.7,220.5 842.4,225.0 845.2,226.5 847.9,230.0 850.6,234.0 853.4,237.5 856.1,240.0 858.9,241.0 861.6,244.0 864.3,246.5 867.1,249.0 869.8,252.5 872.6,251.5 875.3,259.0 878.0,258.0 880.8,261.0 883.5,263.0 886.2,264.5 889.0,263.5 891.7,260.0 894.5,259.0 897.2,257.5 899.9,258.5 902.7,268.0 905.4,265.0 908.2,271.0 910.9,271.5 913.6,275.0 916.4,281.5 919.1,288.0 921.8,289.5 924.6,291.0 927.3,287.0 930.1,296.0 932.8,298.0 935.5,296.5 938.3,295.0 941.0,294.5 943.8,291.0 946.5,300.0 949.2,311.5 952.0,308.0 954.7,309.0 957.4,306.5 960.2,303.5 962.9,303.5 965.7,308.5 968.4,310.5 971.1,315.0 973.9,319.5 976.6,316.5 979.4,321.5 982.1,322.5 984.8,328.5 987.6,328.0 990.3,327.0 993.0,335.0 995.8,331.0 998.5,332.5 1001.3,331.0 1004.0,327.0 1006.7,322.0 1009.5,329.5 1012.2,327.0 1015.0,330.0 1017.7,333.5 1020.4,332.0 1023.2,333.0 1025.9,329.0 1028.6,327.5 1031.4,328.5 1034.1,328.0 1036.9,337.0 1039.6,337.5 1042.3,334.5 1045.1,332.0 1047.8,329.0 1050.6,327.5 1053.3,331.0 1056.0,333.5 1058.8,332.5 1061.5,337.0 1064.2,333.0 1067.0,335.0 1069.7,335.0 1072.5,333.5 1075.2,330.5" fill="none" stroke="#000" stroke-width="2.9" stroke-linejoin="round" stroke-linecap="butt"/>
<polyline points="78.4,343.0 81.1,346.0 83.9,348.5 86.6,351.0 89.4,322.5 92.1,321.5 94.8,347.0 97.6,322.5 100.3,306.5 103.0,315.0 105.8,284.0 108.5,318.0 111.3,349.0 114.0,352.5 116.7,356.5 119.5,332.0 122.2,342.0 125.0,353.0 127.7,353.0 130.4,337.0 133.2,322.0 135.9,302.0 138.6,295.0 141.4,298.5 144.1,315.0 146.9,315.5 149.6,290.0 152.3,335.0 155.1,345.0 157.8,339.5 160.6,344.5 163.3,335.0 166.0,336.0 168.8,329.5 171.5,327.0 174.2,326.0 177.0,330.0 179.7,349.5 182.5,332.0 185.2,314.0 187.9,303.0 190.7,311.0 193.4,312.5 196.2,308.0 198.9,299.0 201.6,291.5 204.4,284.0 207.1,297.5 209.8,285.0 212.6,281.0 215.3,314.0 218.1,331.0 220.8,346.5 223.5,345.0 226.3,344.0 229.0,346.5 231.8,370.5 234.5,354.0 237.2,328.5 240.0,385.0 242.7,418.5 245.4,376.0 248.2,348.0 250.9,343.5 253.7,350.0 256.4,351.5 259.1,371.0 261.9,386.5 264.6,372.0 267.4,369.0 270.1,367.5 272.8,377.5 275.6,347.0 278.3,315.0 281.0,311.5 283.8,310.0 286.5,298.5 289.3,277.5 292.0,282.0 294.7,303.0 297.5,330.5 300.2,317.7 303.0,305.5 305.7,285.0 308.4,293.0 311.2,294.0 313.9,277.0 316.6,270.0 319.4,265.5 322.1,234.5 324.9,237.0 327.6,258.0 330.3,305.5 333.1,285.0 335.8,267.5 338.6,263.0 341.3,238.5 344.0,215.5 346.8,214.5 349.5,239.0 352.2,263.5 355.0,263.5 357.7,254.5 360.5,268.0 363.2,318.5 365.9,290.0 368.7,270.0 371.4,276.0 374.2,301.0 376.9,278.0 379.6,265.0 382.4,245.0 385.1,222.0 387.8,208.5 390.6,205.0 393.3,230.0 396.1,235.0 398.8,235.5 401.5,237.0 404.3,249.0 407.0,239.0 409.8,250.5 412.5,248.5 415.2,263.0 418.0,272.5 420.7,261.5 423.4,251.0 426.2,266.5 428.9,261.0 431.7,255.5 434.4,263.5 437.1,253.0 439.9,243.0 442.6,241.5 445.4,249.5 448.1,223.0 450.8,207.0 453.6,192.0 456.3,239.5 459.0,209.0 461.8,197.5 464.5,201.5 467.3,212.0 470.0,195.0 472.7,177.0 475.5,164.0 478.2,157.0 481.0,143.0 483.7,128.0 486.4,126.5 489.2,129.5 491.9,136.5 494.6,152.0 497.4,187.0 500.1,200.0 502.9,183.0 505.6,163.0 508.3,157.0 511.1,137.0 513.8,121.5 516.6,122.5 519.3,170.5 522.0,180.0 524.8,153.0 527.5,138.5 530.2,126.0 533.0,118.5 535.7,124.0 538.5,110.0 541.2,116.0 543.9,110.0 546.7,107.0 549.4,115.0 552.2,104.5 554.9,141.0 557.6,170.5 560.4,145.0 563.1,118.0 565.8,97.0 568.6,86.0 571.3,114.5 574.1,108.5 576.8,109.5 579.5,116.0 582.3,115.0 585.0,122.5 587.8,120.0 590.5,118.5 593.2,138.5 596.0,116.0 598.7,124.0 601.4,149.0 604.2,174.5 606.9,148.0 609.7,125.0 612.4,109.0 615.1,101.5 617.9,106.0 620.6,144.0 623.4,157.0 626.1,169.5 628.8,154.0 631.6,140.0 634.3,155.0 637.0,166.5 639.8,166.0 642.5,140.0 645.3,124.5 648.0,136.0 650.7,156.0 653.5,139.0 656.2,136.0 659.0,141.0 661.7,127.0 664.4,108.5 667.2,106.5 669.9,92.5 672.6,104.0 675.4,98.0 678.1,97.5 680.9,92.5 683.6,91.5 686.3,94.5 689.1,101.0 691.8,109.0 694.6,102.0 697.3,94.5 700.0,88.0 702.8,87.5 705.5,114.0 708.2,152.0 711.0,164.5 713.7,148.0 716.5,153.0 719.2,140.0 721.9,132.0 724.7,122.0 727.4,119.5 730.2,131.0 732.9,183.5 735.6,175.0 738.4,155.0 741.1,185.0 743.8,213.0 746.6,189.0 749.3,166.0 752.1,163.0 754.8,154.0 757.5,149.0 760.3,169.5 763.0,177.5 765.8,190.0 768.5,195.5 771.2,174.0 774.0,159.5 776.7,166.0 779.4,158.0 782.2,146.0 784.9,139.5 787.7,135.5 790.4,126.5 793.1,140.0 795.9,154.0 798.6,202.5 801.4,241.0 804.1,232.5 806.8,240.0 809.6,225.0 812.3,215.5 815.0,206.0 817.8,210.0 820.5,207.0 823.3,209.5 826.0,197.5 828.7,193.0 831.5,190.0 834.2,178.5 837.0,195.0 839.7,211.0 842.4,187.0 845.2,185.5 847.9,196.5 850.6,216.0 853.4,209.5 856.1,215.0 858.9,209.0 861.6,213.5 864.3,205.5 867.1,215.0 869.8,218.5 872.6,219.5 875.3,219.5 878.0,223.5 880.8,236.0 883.5,223.0 886.2,211.5 889.0,224.0 891.7,233.0 894.5,263.0 897.2,280.0 899.9,269.0 902.7,278.0 905.4,265.0 908.2,265.0 910.9,250.5 913.6,263.0 916.4,274.5 919.1,266.5 921.8,266.5 924.6,290.0 927.3,297.5 930.1,296.0 932.8,309.5 935.5,296.5 938.3,278.0 941.0,250.5 943.8,273.5 946.5,282.0 949.2,291.5 952.0,294.5 954.7,298.0 957.4,313.0 960.2,335.5 962.9,338.5 965.7,343.0 968.4,351.0 971.1,322.0 973.9,301.0 976.6,316.5 979.4,336.5 982.1,332.5 984.8,324.5 987.6,327.5 990.3,317.5 993.0,335.0 995.8,336.0 998.5,332.0 1001.3,323.0 1004.0,311.0 1006.7,282.5 1009.5,292.0 1012.2,309.5 1015.0,303.5 1017.7,306.5 1020.4,310.0 1023.2,307.0 1025.9,286.0 1028.6,301.5 1031.4,301.5 1034.1,311.5 1036.9,286.0 1039.6,308.5 1042.3,307.5 1045.1,315.0 1047.8,345.0 1050.6,369.5 1053.3,348.0 1056.0,343.0 1058.8,353.5 1061.5,337.0 1064.2,331.0 1067.0,314.0 1069.7,314.5 1072.5,333.0" fill="none" stroke="#000" stroke-width="1.1" stroke-linejoin="round"/>
</g>
<rect x="78.5" y="60.5" width="997.0" height="385.0" fill="none" stroke="#000" stroke-width="1"/>
<line x1="78.50" x2="78.50" y1="445.5" y2="450.9" stroke="#000" stroke-width="1"/>
<text x="78.10" y="469" font-size="16" text-anchor="middle" fill="#000">Ene</text>
<line x1="163.50" x2="163.50" y1="445.5" y2="450.9" stroke="#000" stroke-width="1"/>
<text x="163.10" y="469" font-size="16" text-anchor="middle" fill="#000">Feb</text>
<line x1="240.50" x2="240.50" y1="445.5" y2="450.9" stroke="#000" stroke-width="1"/>
<text x="240.10" y="469" font-size="16" text-anchor="middle" fill="#000">Mar</text>
<line x1="325.50" x2="325.50" y1="445.5" y2="450.9" stroke="#000" stroke-width="1"/>
<text x="325.10" y="469" font-size="16" text-anchor="middle" fill="#000">Abr</text>
<line x1="407.50" x2="407.50" y1="445.5" y2="450.9" stroke="#000" stroke-width="1"/>
<text x="407.10" y="469" font-size="16" text-anchor="middle" fill="#000">May</text>
<line x1="492.50" x2="492.50" y1="445.5" y2="450.9" stroke="#000" stroke-width="1"/>
<text x="492.10" y="469" font-size="16" text-anchor="middle" fill="#000">Jun</text>
<line x1="574.50" x2="574.50" y1="445.5" y2="450.9" stroke="#000" stroke-width="1"/>
<text x="574.10" y="469" font-size="16" text-anchor="middle" fill="#000">Jul</text>
<line x1="659.50" x2="659.50" y1="445.5" y2="450.9" stroke="#000" stroke-width="1"/>
<text x="659.10" y="469" font-size="16" text-anchor="middle" fill="#000">Ago</text>
<line x1="744.50" x2="744.50" y1="445.5" y2="450.9" stroke="#000" stroke-width="1"/>
<text x="744.10" y="469" font-size="16" text-anchor="middle" fill="#000">Sep</text>
<line x1="826.50" x2="826.50" y1="445.5" y2="450.9" stroke="#000" stroke-width="1"/>
<text x="826.10" y="469" font-size="16" text-anchor="middle" fill="#000">Oct</text>
<line x1="911.50" x2="911.50" y1="445.5" y2="450.9" stroke="#000" stroke-width="1"/>
<text x="911.10" y="469" font-size="16" text-anchor="middle" fill="#000">Nov</text>
<line x1="993.50" x2="993.50" y1="445.5" y2="450.9" stroke="#000" stroke-width="1"/>
<text x="993.10" y="469" font-size="16" text-anchor="middle" fill="#000">Dic</text>
<line x1="73.2" x2="78.5" y1="442.50" y2="442.50" stroke="#000" stroke-width="1"/>
<text x="68.3" y="449.50" font-size="18.9" text-anchor="end" fill="#000">−5</text>
<line x1="73.2" x2="78.5" y1="396.50" y2="396.50" stroke="#000" stroke-width="1"/>
<text x="68.3" y="403.50" font-size="18.9" text-anchor="end" fill="#000">0</text>
<line x1="73.2" x2="78.5" y1="349.50" y2="349.50" stroke="#000" stroke-width="1"/>
<text x="68.3" y="356.50" font-size="18.9" text-anchor="end" fill="#000">5</text>
<line x1="73.2" x2="78.5" y1="303.50" y2="303.50" stroke="#000" stroke-width="1"/>
<text x="68.3" y="310.50" font-size="18.9" text-anchor="end" fill="#000">10</text>
<line x1="73.2" x2="78.5" y1="256.50" y2="256.50" stroke="#000" stroke-width="1"/>
<text x="68.3" y="263.50" font-size="18.9" text-anchor="end" fill="#000">15</text>
<line x1="73.2" x2="78.5" y1="210.50" y2="210.50" stroke="#000" stroke-width="1"/>
<text x="68.3" y="217.50" font-size="18.9" text-anchor="end" fill="#000">20</text>
<line x1="73.2" x2="78.5" y1="163.50" y2="163.50" stroke="#000" stroke-width="1"/>
<text x="68.3" y="170.50" font-size="18.9" text-anchor="end" fill="#000">25</text>
<line x1="73.2" x2="78.5" y1="117.50" y2="117.50" stroke="#000" stroke-width="1"/>
<text x="68.3" y="124.50" font-size="18.9" text-anchor="end" fill="#000">30</text>
<line x1="73.2" x2="78.5" y1="70.50" y2="70.50" stroke="#000" stroke-width="1"/>
<text x="68.3" y="77.50" font-size="18.9" text-anchor="end" fill="#000">35</text>
<text x="577" y="32" font-size="25" text-anchor="middle" fill="#3474a7">Temperatura Media diaria - Móstoles</text>
<text x="49.2" y="54" font-size="15.28" fill="#000">°C</text>
<text x="83" y="54" font-size="16.67" fill="#000">Última temp: 2025-12-30</text>
<text transform="translate(88.8,83.7) scale(1,0.955)" x="0" y="0" font-size="22.2" fill="#3474a7">WWW.EMBALSES.NET</text>
<rect x="186.25" y="476.75" width="781.75" height="40" rx="3.5" ry="3.5" fill="#fff" fill-opacity="0.8" stroke="#cccccc" stroke-width="1"/>
<line x1="192" x2="225" y1="491.3" y2="491.3" stroke="#ff0000" stroke-width="0.8" stroke-dasharray="2.2,1.1"/>
<text x="238.7" y="496.7" font-size="16.67" fill="#000">Percentil 95</text>
<line x1="370" x2="403.5" y1="491.3" y2="491.3" stroke="#add8e6" stroke-width="1.4" stroke-dasharray="4.5,2"/>
<text x="416.5" y="496.7" font-size="16.67" fill="#000">Percentil 5</text>
<line x1="537" x2="572" y1="491.3" y2="491.3" stroke="#000" stroke-width="3"/>
<text x="584" y="496.7" font-size="16.67" fill="#000">Temperatura Mediana</text>
<line x1="799" x2="832" y1="491.3" y2="491.3" stroke="#000" stroke-width="1"/>
<text x="845.5" y="496.7" font-size="16.67" fill="#000">T. Media 2025</text>
</svg></body></html>
